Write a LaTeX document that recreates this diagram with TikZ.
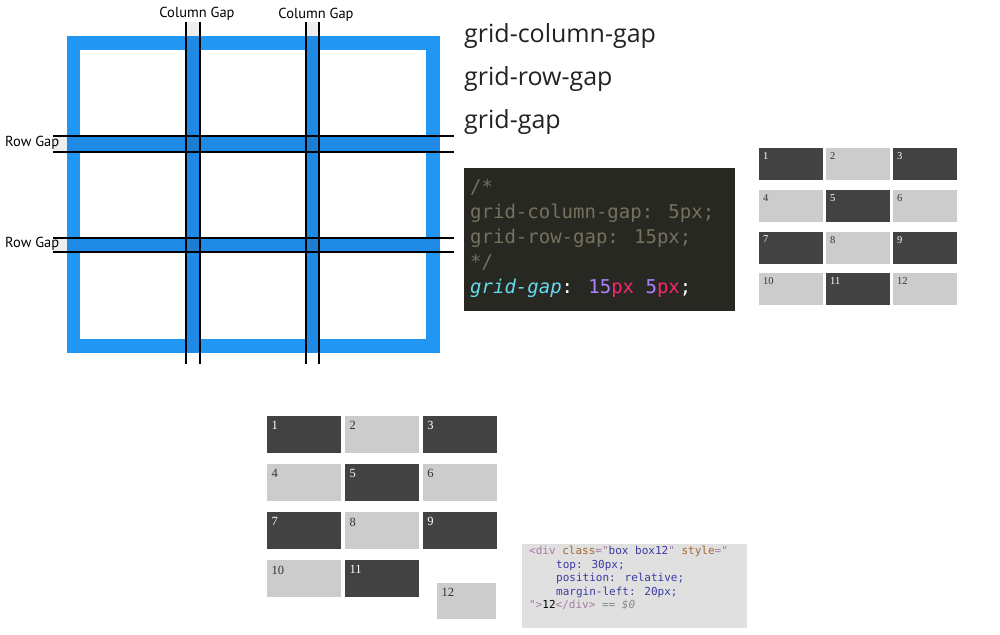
\documentclass[tikz,border=0pt]{standalone}
\usepackage{fontspec}
\setmainfont{Open Sans}
\newfontfamily\labfont{PT Sans}
\newfontfamily\codefont{DejaVu Sans Mono}
\newfontfamily\numfont{Liberation Serif}
\definecolor{frameblue}{HTML}{2196F3}
\definecolor{gapblue}{HTML}{1F8AE6}
\definecolor{crossblue}{HTML}{1B7ED3}
\definecolor{stripgray}{HTML}{EEEEEE}
\definecolor{headgray}{HTML}{222222}
\definecolor{codebg}{HTML}{272822}
\definecolor{comment}{HTML}{75715E}
\definecolor{keycyan}{HTML}{66D9EF}
\definecolor{numpurple}{HTML}{AE81FF}
\definecolor{unitpink}{HTML}{F92672}
\definecolor{celldark}{HTML}{424242}
\definecolor{celllight}{HTML}{CCCCCC}
\definecolor{numgray}{HTML}{333333}
\definecolor{devbg}{HTML}{E0E0E0}
\definecolor{tagc}{HTML}{A77BA6}
\definecolor{attrn}{HTML}{A6682F}
\definecolor{attrv}{HTML}{3B3BA3}
\definecolor{faded}{HTML}{8A8A8A}
\tikzset{
  gapline/.style={black, line width=1.3pt},
  gaplabel/.style={font=\labfont\fontsize{14.5}{16}\selectfont, inner sep=0pt},
  heading/.style={font=\fontsize{25}{28}\selectfont, text=headgray, anchor=base west, inner sep=0pt},
  codeline/.style={font=\codefont\fontsize{19}{22}\selectfont, anchor=base west, inner sep=0pt},
  devline/.style={font=\codefont\fontsize{11}{12}\selectfont, anchor=base west, inner sep=0pt},
  smallcell/.style={minimum width=64pt, minimum height=32pt, inner sep=0pt, anchor=north west},
  bigcell/.style={minimum width=74pt, minimum height=37pt, inner sep=0pt, anchor=north west},
  smallnum/.style={font=\numfont\fontsize{10.5}{11}\selectfont, inner sep=0pt, anchor=north west},
  bignum/.style={font=\numfont\fontsize{12.5}{13}\selectfont, inner sep=0pt, anchor=north west}
}
\begin{document}
\begin{tikzpicture}[x=1pt,y=-1pt]
  \useasboundingbox[fill=white] (0,0) rectangle (1000,634);
  % рамка сетки
  \fill[frameblue] (67,36) rectangle (440,353);
  \fill[white] (80,50) rectangle (426,339);
  % полосы зазоров
  \fill[gapblue] (186,36) rectangle (200,353);
  \fill[gapblue] (306,36) rectangle (319,353);
  \fill[gapblue] (67,136) rectangle (440,152);
  \fill[gapblue] (67,238) rectangle (440,252);
  \foreach \cx in {186,306}
    \foreach \cy in {136,238}
      \fill[crossblue] (\cx,\cy) rectangle ++(13.5,15);
  \fill[stripgray] (186,22) rectangle (200,36);
  \fill[stripgray] (306,22) rectangle (319,36);
  \fill[stripgray] (53,136) rectangle (67,152);
  \fill[stripgray] (53,238) rectangle (67,252);
  % линии зазоров
  \foreach \cx in {186,200,306,319}
    \draw[gapline] (\cx,22) -- (\cx,364);
  \foreach \cy in {136,152,238,252}
    \draw[gapline] (53,\cy) -- (454,\cy);
  % подписи
  \node[gaplabel] (colgapA) at (197,14) {Column Gap};
  \node[gaplabel] (colgapB) at (316,15) {Column Gap};
  \node[gaplabel, anchor=west] (rowgapA) at (5,143) {Row Gap};
  \node[gaplabel, anchor=west] (rowgapB) at (5,244) {Row Gap};
  % заголовки
  \node[heading] (hcol) at (464,42) {grid-column-gap};
  \node[heading] (hrow) at (464,85) {grid-row-gap};
  \node[heading] (hgap) at (464,128) {grid-gap};
  % код
  \fill[codebg] (464,168) rectangle (735,311);
  \node[codeline, text=comment] (c1) at (470,193) {/*};
  \node[codeline, text=comment] (c2) at (470,218) {grid-column-gap: 5px;};
  \node[codeline, text=comment] (c3) at (470,243) {grid-row-gap: 15px;};
  \node[codeline, text=comment] (c4) at (470,268) {*/};
  \node[codeline, text=white] (c5) at (470,293) {{\color{keycyan}\itshape grid-gap}: {\color{numpurple}15}{\color{unitpink}px} {\color{numpurple}5}{\color{unitpink}px};};
  % малая сетка
  \foreach \i in {1,...,12}{
    \pgfmathtruncatemacro\col{mod(\i-1,3)}
    \pgfmathtruncatemacro\row{(\i-1)/3}
    \pgfmathtruncatemacro\odd{mod(\i,2)}
    \ifnum\odd=1 \def\fc{celldark}\def\tc{white}\else\def\fc{celllight}\def\tc{numgray}\fi
    \node[smallcell, fill=\fc] (sc\i) at (759+67*\col, 148+41.7*\row) {};
    \node[smallnum, text=\tc] (sn\i) at ([xshift=4pt,yshift=-4.5pt]sc\i.north west) {\i};
  }
  % большая сетка
  \foreach \i in {1,...,11}{
    \pgfmathtruncatemacro\col{mod(\i-1,3)}
    \pgfmathtruncatemacro\row{(\i-1)/3}
    \pgfmathtruncatemacro\odd{mod(\i,2)}
    \ifnum\odd=1 \def\fc{celldark}\def\tc{white}\else\def\fc{celllight}\def\tc{numgray}\fi
    \node[bigcell, fill=\fc] (bc\i) at (267+77.8*\col, 416+48*\row) {};
    \node[bignum, text=\tc] (bn\i) at ([xshift=4.5pt,yshift=-5.5pt]bc\i.north west) {\i};
  }
  \node[bigcell, minimum width=59pt, minimum height=36pt, fill=celllight] (bc12) at (437,583) {};
  \node[bignum, text=numgray] (bn12) at ([xshift=4.5pt,yshift=-5.5pt]bc12.north west) {12};
  % devtools
  \fill[devbg] (522,544) rectangle (747,628);
  \node[devline] (d1) at (529,554) {{\color{tagc}<div} {\color{attrn}class}{\color{tagc}="}{\color{attrv}box box12}{\color{tagc}"} {\color{attrn}style}{\color{tagc}="}};
  \node[devline, text=attrv] (d2) at (556,568) {top: 30px;};
  \node[devline, text=attrv] (d3) at (556,581.5) {position: relative;};
  \node[devline, text=attrv] (d4) at (556,595) {margin-left: 20px;};
  \node[devline] (d5) at (529,608.5) {{\color{tagc}">}{\color{black}12}{\color{tagc}</div>} {\color{faded}\itshape == \$0}};
\end{tikzpicture}
\end{document}
